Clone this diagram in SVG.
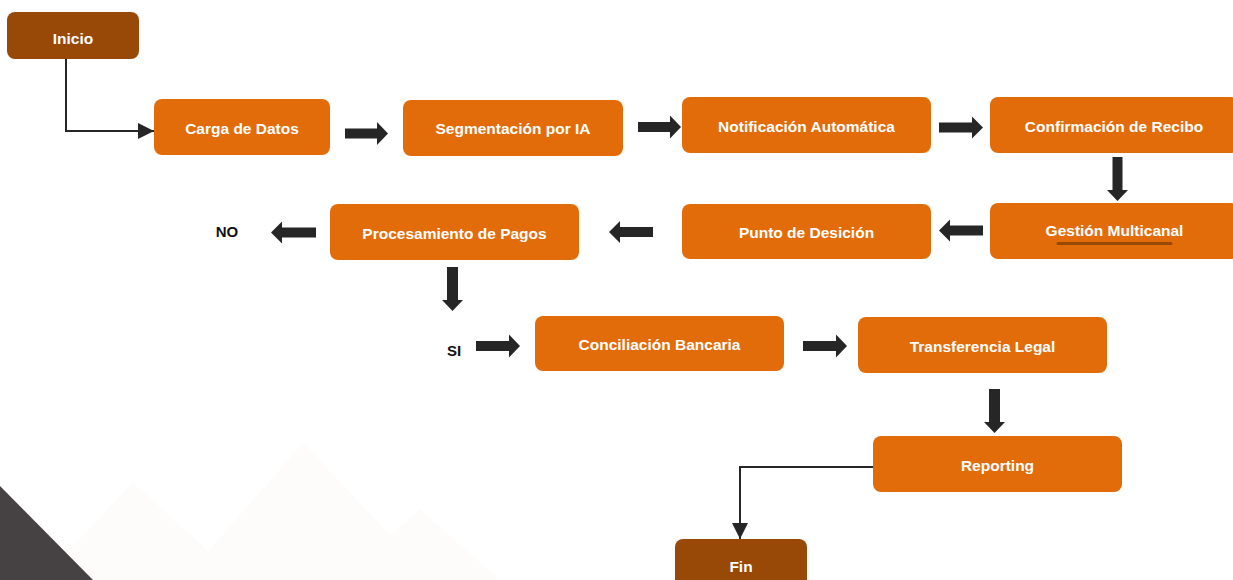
<svg xmlns="http://www.w3.org/2000/svg" width="1233" height="580" viewBox="0 0 1233 580">
  <defs>
    <style>
      .node { fill: #E36C0A; }
      .term { fill: #984807; }
      .lbl { font-family: "Liberation Sans", Arial, sans-serif; font-weight: bold; font-size: 15.5px; fill: #FFFFFF; text-anchor: middle; }
      .side { font-family: "Liberation Sans", Arial, sans-serif; font-weight: bold; font-size: 15px; fill: #111111; text-anchor: middle; }
      .block { fill: #262626; }
      .line { fill: none; stroke: #262626; stroke-width: 2; }
      .faint { fill: #FDFCFB; }
    </style>
    <marker id="tri" viewBox="0 0 16 16" refX="16" refY="8" markerWidth="16" markerHeight="16" markerUnits="userSpaceOnUse" orient="auto">
      <path d="M0,0 L16,8 L0,16 Z" fill="#262626"/>
    </marker>
  </defs>

  <rect width="1233" height="580" fill="#FFFFFF"/>

  <g id="background">
    <polygon class="faint" points="133,483 240,580 40,580"/>
    <polygon class="faint" points="303,443 433,580 183,580"/>
    <polygon class="faint" points="420,510 500,580 340,580"/>
    <polygon points="0,486 93,580 0,580" fill="#464243"/>
  </g>

  <g id="connectors">
    <polyline class="line" points="66,59 66,131 154,131" marker-end="url(#tri)"/>
    <polyline class="line" points="873,467 740,467 740,539" marker-end="url(#tri)"/>
    <path class="block" d="M345,128.5 H377 V122 L388,133.5 L377,145 V138.5 H345 Z"/>
    <path class="block" d="M638,122 H670 V115.5 L681,127 L670,138.5 V132 H638 Z"/>
    <path class="block" d="M939,122.5 H972 V116.5 L983,127.5 L972,138.5 V132.5 H939 Z"/>
    <path class="block" d="M476,341 H509 V334.5 L520,346 L509,357.5 V351 H476 Z"/>
    <path class="block" d="M803,341 H836 V334.5 L847,346 L836,357.5 V351 H803 Z"/>
    <path class="block" d="M983,225.5 H950 V219.5 L939,230.5 L950,241.5 V235.5 H983 Z"/>
    <path class="block" d="M653,227 H620 V221 L609,232 L620,243 V237 H653 Z"/>
    <path class="block" d="M316,227.5 H282 V221.5 L271,232.5 L282,243.5 V237.5 H316 Z"/>
    <path class="block" d="M1112.5,157 V190 H1107 L1117.5,201 L1128,190 H1122.5 V157 Z"/>
    <path class="block" d="M447,267 V300 H442 L452.5,311 L463,300 H458 V267 Z"/>
    <path class="block" d="M989,389 V422 H984 L994.5,433 L1005,422 H1000 V389 Z"/>
  </g>

  <g id="inicio">
    <rect class="term" x="7" y="12" width="132" height="47" rx="8"/>
    <text class="lbl" x="73" y="44">Inicio</text>
  </g>
  <g id="carga">
    <rect class="node" x="154" y="99" width="176" height="56" rx="8"/>
    <text class="lbl" x="242" y="134">Carga de Datos</text>
  </g>
  <g id="segmentacion">
    <rect class="node" x="403" y="100" width="220" height="56" rx="8"/>
    <text class="lbl" x="513" y="134">Segmentación por IA</text>
  </g>
  <g id="notificacion">
    <rect class="node" x="682" y="97" width="249" height="56" rx="8"/>
    <text class="lbl" x="806.5" y="132">Notificación Automática</text>
  </g>
  <g id="confirmacion">
    <rect class="node" x="990" y="97" width="249" height="56" rx="8"/>
    <text class="lbl" x="1114" y="132">Confirmación de Recibo</text>
  </g>
  <g id="gestion">
    <rect class="node" x="990" y="203" width="249" height="56" rx="8"/>
    <text class="lbl" x="1114.5" y="236">Gestión Multicanal</text>
    <line x1="1058" y1="243.5" x2="1171" y2="243.5" stroke="#984807" stroke-width="3" stroke-linecap="round"/>
  </g>
  <g id="punto">
    <rect class="node" x="682" y="204" width="249" height="55" rx="8"/>
    <text class="lbl" x="806.5" y="237.5">Punto de Desición</text>
  </g>
  <g id="procesamiento">
    <rect class="node" x="330" y="204" width="249" height="56" rx="8"/>
    <text class="lbl" x="454.5" y="239">Procesamiento de Pagos</text>
  </g>
  <g id="no">
    <text class="side" x="227" y="237">NO</text>
  </g>
  <g id="si">
    <text class="side" x="454" y="356">SI</text>
  </g>
  <g id="conciliacion">
    <rect class="node" x="535" y="316" width="249" height="55" rx="8"/>
    <text class="lbl" x="659.5" y="350">Conciliación Bancaria</text>
  </g>
  <g id="transferencia">
    <rect class="node" x="858" y="317" width="249" height="56" rx="8"/>
    <text class="lbl" x="982.5" y="352">Transferencia Legal</text>
  </g>
  <g id="reporting">
    <rect class="node" x="873" y="436" width="249" height="56" rx="8"/>
    <text class="lbl" x="997.5" y="471">Reporting</text>
  </g>
  <g id="fin">
    <rect class="term" x="675" y="539" width="132" height="56" rx="8"/>
    <text class="lbl" x="741" y="572">Fin</text>
  </g>
</svg>
